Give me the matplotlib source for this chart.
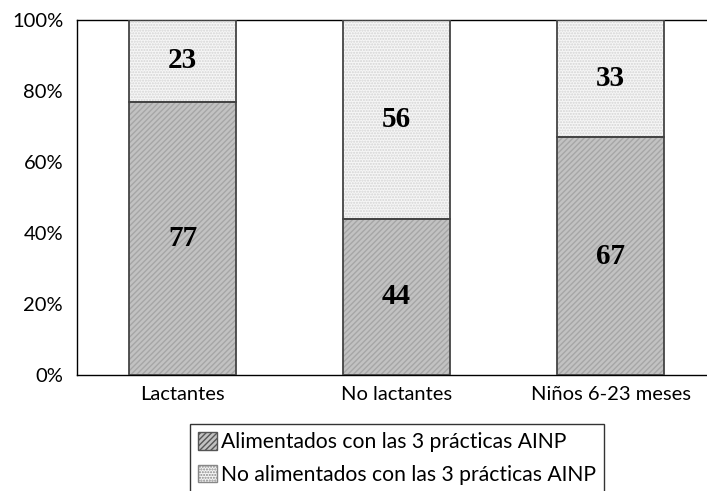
import matplotlib
matplotlib.use("Agg")
import matplotlib.pyplot as plt
import numpy as np
from matplotlib.patches import Patch

categories = ["Lactantes", "No lactantes", "Niños 6-23 meses"]
alimentados = [77, 44, 67]
no_alimentados = [23, 56, 33]
series_labels = ["Alimentados con las 3 prácticas AINP", "No alimentados con las 3 prácticas AINP"]
yticks = [0, 20, 40, 60, 80, 100]

font = "Lato"
fig = plt.figure(figsize=(7.07, 4.91), dpi=100)
ax = fig.add_axes([77/707, 1-375/491, (706-77)/707, (375-20)/491])

x = np.arange(len(categories))
w = 0.5
dark_face, dark_hatch = "#c2c2c2", "#a6a6a6"
light_face, light_hatch = "#f6f6f6", "#d4d4d4"
ax.bar(x, alimentados, w, color=dark_face, edgecolor="none", zorder=2)
ax.bar(x, alimentados, w, fill=False, hatch="//////", edgecolor=dark_hatch, linewidth=0, zorder=3)
ax.bar(x, no_alimentados, w, bottom=alimentados, color=light_face, edgecolor="none", zorder=2)
ax.bar(x, no_alimentados, w, bottom=alimentados, fill=False, hatch="......", edgecolor=light_hatch, linewidth=0, zorder=3)
ax.bar(x, alimentados, w, fill=False, edgecolor="#444444", linewidth=1.3, zorder=4)
ax.bar(x, no_alimentados, w, bottom=alimentados, fill=False, edgecolor="#444444", linewidth=1.3, zorder=4)

for i in range(len(categories)):
    ax.text(x[i], alimentados[i]/2, str(alimentados[i]), ha="center", va="center",
            fontsize=21, fontweight="bold", family="Liberation Serif", zorder=5)
    ax.text(x[i], alimentados[i] + no_alimentados[i]/2, str(no_alimentados[i]), ha="center", va="center",
            fontsize=21, fontweight="bold", family="Liberation Serif", zorder=5)

ax.set_xlim(-0.493, 2.446)
ax.set_ylim(0, 100)
ax.set_yticks(yticks)
ax.set_yticklabels([f"{t}%" for t in yticks], family=font, fontsize=14.5)
ax.set_xticks(x)
ax.set_xticklabels(categories, family=font, fontsize=14.5)
ax.tick_params(axis="y", length=0, pad=10)
ax.tick_params(axis="x", length=0, pad=8)
for s in ["left", "bottom", "top"]:
    ax.spines[s].set_color("black")
    ax.spines[s].set_linewidth(1.0)
ax.spines["right"].set_visible(False)

handles = [
    Patch(facecolor=dark_face, edgecolor="#555555", hatch="//////"),
    Patch(facecolor=light_face, edgecolor="#888888", hatch="......"),
]
leg = fig.legend(handles, series_labels, loc="upper left", bbox_to_anchor=(190/707, 1-424/491),
                 prop={"family": font, "size": 15.2}, frameon=True, fancybox=False,
                 handlelength=0.9, handleheight=0.9, handletextpad=0.15, borderpad=0.4,
                 labelspacing=0.58, borderaxespad=0)
leg.get_frame().set_edgecolor("black")
leg.get_frame().set_linewidth(1.0)

fig.savefig("out.png", dpi=100)
